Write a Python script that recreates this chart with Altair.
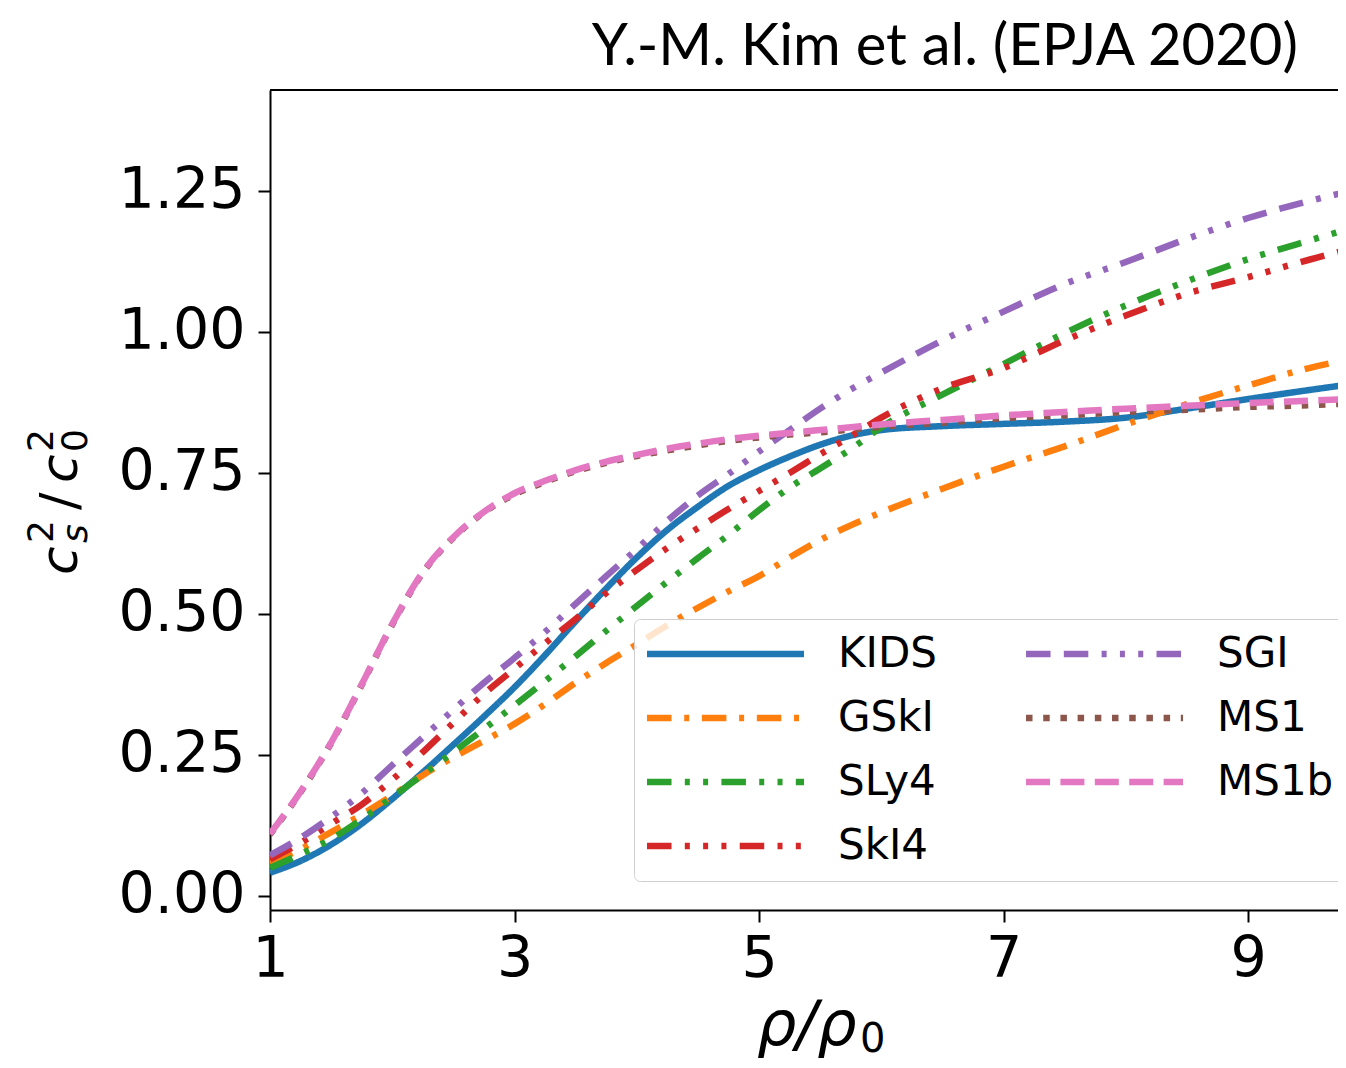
import altair as alt
import pandas as pd

# ---------------- data ----------------
x_vals = [1, 1.25, 1.5, 1.75, 2, 2.25, 2.5, 2.75, 3, 3.25, 3.5, 3.75, 4, 4.25,
          4.5, 4.75, 5, 5.25, 5.5, 5.75, 6, 6.5, 7, 7.5, 8, 8.5, 9, 9.5, 9.8]

kids = [0.041, 0.062, 0.091, 0.128, 0.172, 0.219, 0.268, 0.318, 0.370, 0.427,
        0.487, 0.545, 0.600, 0.649, 0.690, 0.727, 0.755, 0.779, 0.800, 0.816,
        0.826, 0.833, 0.837, 0.841, 0.848, 0.864, 0.881, 0.897, 0.906]
gski = [0.058, 0.083, 0.113, 0.144, 0.178, 0.214, 0.246, 0.275, 0.305, 0.340,
        0.378, 0.413, 0.446, 0.480, 0.511, 0.540, 0.567, 0.600, 0.631, 0.657,
        0.680, 0.722, 0.761, 0.797, 0.836, 0.872, 0.905, 0.936, 0.950]
sly4 = [0.050, 0.074, 0.101, 0.136, 0.175, 0.215, 0.255, 0.296, 0.338, 0.381,
        0.425, 0.470, 0.514, 0.557, 0.599, 0.640, 0.684, 0.724, 0.758, 0.792,
        0.831, 0.889, 0.943, 0.998, 1.047, 1.090, 1.129, 1.162, 1.181]
ski4 = [0.065, 0.094, 0.128, 0.162, 0.206, 0.255, 0.307, 0.358, 0.403, 0.448,
        0.491, 0.537, 0.578, 0.617, 0.652, 0.686, 0.718, 0.750, 0.783, 0.815,
        0.848, 0.900, 0.936, 0.985, 1.029, 1.068, 1.097, 1.128, 1.145]
sgi = [0.072, 0.103, 0.140, 0.182, 0.232, 0.281, 0.330, 0.378, 0.422, 0.468,
       0.518, 0.567, 0.615, 0.665, 0.710, 0.748, 0.788, 0.826, 0.864, 0.898,
       0.928, 0.985, 1.036, 1.085, 1.124, 1.165, 1.202, 1.232, 1.248]
ms1 = [0.109, 0.184, 0.271, 0.374, 0.481, 0.573, 0.635, 0.680, 0.712, 0.734,
       0.753, 0.768, 0.780, 0.790, 0.799, 0.807, 0.813, 0.818, 0.822, 0.827,
       0.832, 0.839, 0.847, 0.852, 0.858, 0.862, 0.867, 0.870, 0.873]
ms1b = [0.110, 0.185, 0.272, 0.375, 0.482, 0.574, 0.636, 0.681, 0.714, 0.736,
        0.755, 0.770, 0.782, 0.793, 0.802, 0.810, 0.816, 0.821, 0.826, 0.831,
        0.836, 0.844, 0.852, 0.858, 0.864, 0.869, 0.874, 0.878, 0.881]

series_names = ["KIDS", "GSkI", "SLy4", "SkI4", "SGI", "MS1", "MS1b"]
series_values = [kids, gski, sly4, ski4, sgi, ms1, ms1b]

# legend fills column by column
legend_order = series_names

x_ticks = [1, 3, 5, 7, 9]
y_ticks = [0.0, 0.25, 0.5, 0.75, 1.0, 1.25]

title_text = ["Y.-M. Kim et al. (EPJA 2020)"]
x_title_main = ["\u03c1/\u03c1"]
x_title_sub = ["0"]
y_title_parts = ["c", "s", "2", "/", "c", "0", "2"]

# ---------------- styles ----------------
colors = {"KIDS": "#1f77b4", "GSkI": "#ff7f0e", "SLy4": "#2ca02c",
          "SkI4": "#d62728", "SGI": "#9467bd", "MS1": "#8c564b",
          "MS1b": "#e377c2"}
D, G, P = 24.5, 13.3, 5
dashes = {"KIDS": [1, 0],
          "GSkI": [D, 12.7, P, 12.7],
          "SLy4": [D, G, P, G, P, G],
          "SkI4": [D, G, P, G, P, G, P, G],
          "SGI": [D, G, D, G, P, G, P, G, P, G],
          "MS1": [6.5, 10.7],
          "MS1b": [24, 10.4]}

rows = []
for name, vals in zip(series_names, series_values):
    for xv, yv in zip(x_vals, vals):
        rows.append({"series": name, "x": xv, "y": yv})
df = pd.DataFrame(rows)

W, H = 1068, 820
X_MAX = 1 + W / 122.25
TICK_FONT = "DejaVu Sans"

color_scale = alt.Scale(domain=legend_order, range=[colors[n] for n in legend_order])
dash_scale = alt.Scale(domain=legend_order, range=[dashes[n] for n in legend_order])

legend = alt.Legend(
    title=None, orient="none", legendX=364, legendY=529, columns=2,
    symbolType="M-1.4,0H8.6", symbolSize=986, symbolStrokeWidth=6.5,
    labelFont=TICK_FONT, labelFontSize=42, labelColor="black",
    labelOffset=148, labelLimit=0, rowPadding=22, columnPadding=76,
    padding=14, fillColor="rgba(255,255,255,0.8)", strokeColor="#cfcfcf",
    cornerRadius=6,
)

axis_common = dict(title=None, grid=False, labelFont=TICK_FONT, labelFontSize=57,
                   labelColor="black", tickSize=12, tickWidth=2, tickColor="black",
                   domainWidth=2, domainColor="black", labelFlush=False,
                   labelOverlap=False)

xenc = alt.X("x:Q", scale=alt.Scale(domain=[1, X_MAX], nice=False, zero=False),
             axis=alt.Axis(values=x_ticks, format="d", labelPadding=9, **axis_common))
yenc = alt.Y("y:Q", scale=alt.Scale(domain=[-0.025, 1.429], nice=False, zero=False),
             axis=alt.Axis(values=y_ticks, format=".2f", labelPadding=13, **axis_common))

layers = []
for name in series_names:
    layers.append(
        alt.Chart(df)
        .transform_filter(alt.datum.series == name)
        .mark_line(strokeWidth=6.5, interpolate="monotone", clip=True)
        .encode(
            x=xenc, y=yenc,
            color=alt.Color("series:N", scale=color_scale, legend=legend),
            strokeDash=alt.StrokeDash("series:N", scale=dash_scale, legend=legend),
        )
    )

# top spine
top_spine = alt.Chart(pd.DataFrame({"a": [0]})).mark_rule(
    color="black", strokeWidth=2).encode(
    x=alt.value(0), x2=alt.value(W), y=alt.value(0))


def text_layer(txt, x, y, size, font=TICK_FONT, style="normal", angle=0,
               align="left", baseline="alphabetic"):
    return alt.Chart(pd.DataFrame({"t": [txt]})).mark_text(
        font=font, fontSize=size, fontStyle=style, angle=angle, align=align,
        baseline=baseline, color="black").encode(
        x=alt.value(x), y=alt.value(y), text="t:N")


title = text_layer(title_text[0], 1028, -25, 58, font="Lato", align="right")

xt1 = text_layer(x_title_main[0], 487, 955, 62, style="italic")
xt2 = text_layer(x_title_sub[0], 590, 962, 40)

BIG, SMALL = 52, 36
yt = [
    text_layer(y_title_parts[0], -193, 485, BIG, style="italic", angle=270),
    text_layer(y_title_parts[1], -183, 453, SMALL, style="italic", angle=270),
    text_layer(y_title_parts[2], -217, 453, SMALL, angle=270),
    text_layer(y_title_parts[3], -193, 420, BIG, angle=270),
    text_layer(y_title_parts[4], -193, 393, BIG, style="italic", angle=270),
    text_layer(y_title_parts[5], -183, 362, SMALL, angle=270),
    text_layer(y_title_parts[6], -217, 362, SMALL, angle=270),
]

chart = alt.layer(*layers, top_spine, title, xt1, xt2, *yt).properties(
    width=W, height=H,
    autosize=alt.AutoSizeParams(type="none"),
    padding={"left": 262, "top": 82, "right": 0, "bottom": 150},
).configure_view(stroke=None)

chart.save("out.html", embed_options={"renderer": "svg", "actions": False})
